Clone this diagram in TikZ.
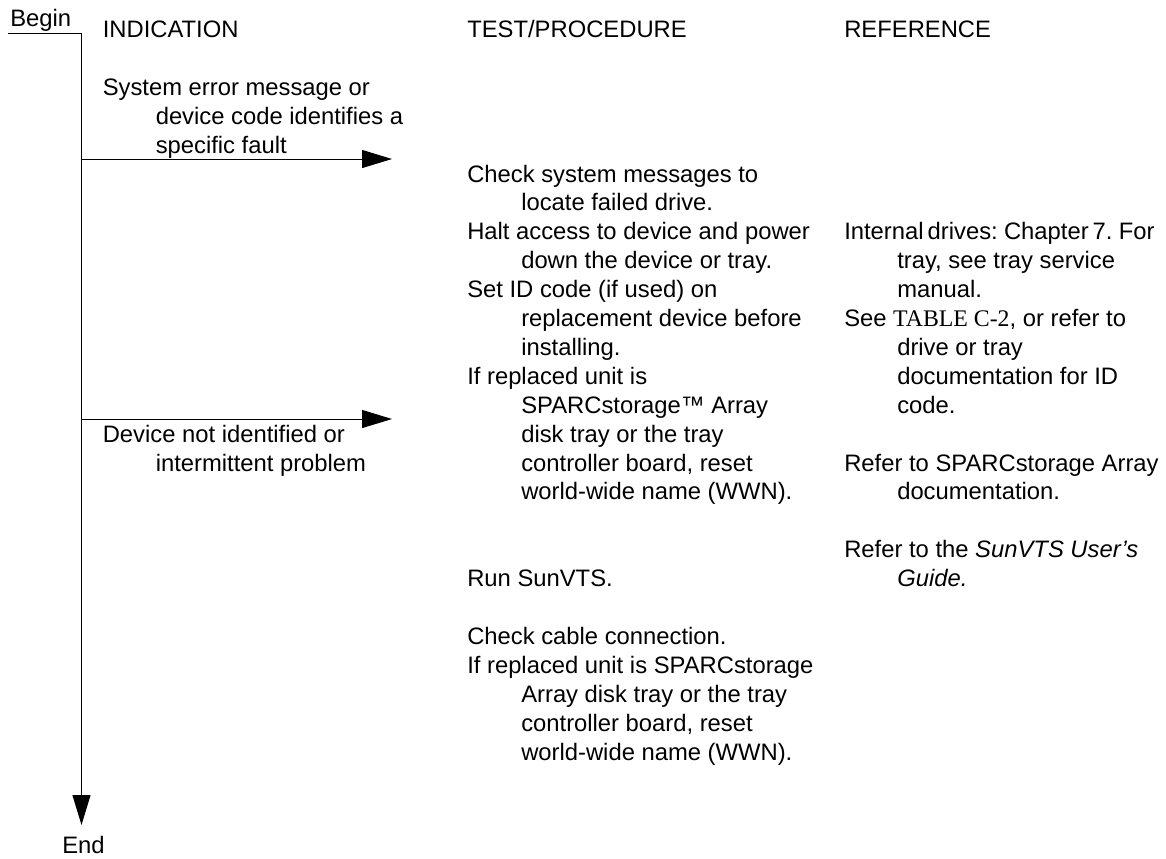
\documentclass[tikz,border=0pt]{standalone}
\usepackage{fontspec}
\setmainfont{Liberation Sans}
\newfontfamily\tabfont{Liberation Serif}
\usetikzlibrary{arrows.meta}
\begin{document}
\begin{tikzpicture}[x=0.75pt,y=-0.75pt,
  txt/.style={anchor=base west, inner sep=0pt, font=\fontsize{17.85pt}{21pt}\selectfont},
  flow/.style={line width=0.75pt, draw=black},
  head/.style={-{Triangle[length=22.5pt,width=13.5pt]}}]
\useasboundingbox (0,0) rectangle (1166,858);
% start / end
\node[txt] (begin) at (10,26) {Begin};
\node[txt] (end) at (62,853) {End};
% headers
\node[txt] (h1) at (102.5,37.5) {INDICATION};
\node[txt] (h2) at (467,37.5) {TEST/PROCEDURE};
\node[txt] (h3) at (844,37.5) {REFERENCE};
% indications
\node[txt] (i1a) at (102.5,95.3) {System error message or};
\node[txt] (i1b) at (155.5,124.2) {device code identifies a};
\node[txt] (i1c) at (155.5,153.1) {specific fault};
\node[txt] (i2a) at (102.5,442.1) {Device not identified or};
\node[txt] (i2b) at (155.5,471.0) {intermittent problem};
% tests
\node[txt] (t1a) at (467,182.0) {Check system messages to};
\node[txt] (t1b) at (521,210.9) {locate failed drive.};
\node[txt] (t2a) at (467,239.8) {Halt access to device and power};
\node[txt] (t2b) at (521,268.7) {down the device or tray.};
\node[txt] (t3a) at (467,297.6) {Set ID code (if used) on};
\node[txt] (t3b) at (521,326.5) {replacement device before};
\node[txt] (t3c) at (521,355.4) {installing.};
\node[txt] (t4a) at (467,384.3) {If replaced unit is};
\node[txt] (t4b) at (521,413.2) {SPARCstorage™ Array};
\node[txt] (t4c) at (521,442.1) {disk tray or the tray};
\node[txt] (t4d) at (521,471.0) {controller board, reset};
\node[txt] (t4e) at (521,499.9) {world-wide name (WWN).};
\node[txt] (t5a) at (467,586.6) {Run SunVTS.};
\node[txt] (t6a) at (467,644.4) {Check cable connection.};
\node[txt] (t7a) at (467,673.3) {If replaced unit is SPARCstorage};
\node[txt] (t7b) at (521,702.2) {Array disk tray or the tray};
\node[txt] (t7c) at (521,731.1) {controller board, reset};
\node[txt] (t7d) at (521,760.0) {world-wide name (WWN).};
% references
\node[txt] (r1a) at (844,239.8) {\spaceskip=0.17em Internal drives: Chapter 7. For};
\node[txt] (r1b) at (897,268.7) {tray, see tray service};
\node[txt] (r1c) at (897,297.6) {manual.};
\node[txt] (r2a) at (844,326.5) {See {\tabfont TABLE C-2}, or refer to};
\node[txt] (r2b) at (897,355.4) {drive or tray};
\node[txt] (r2c) at (897,384.3) {documentation for ID};
\node[txt] (r2d) at (897,413.2) {code.};
\node[txt] (r3a) at (844,471.0) {Refer to SPARCstorage Array};
\node[txt] (r3b) at (897,499.9) {documentation.};
\node[txt] (r4a) at (844,557.7) {Refer to the \textit{SunVTS User's}};
\node[txt] (r4b) at (897,586.6) {\textit{Guide.}};
% flow lines
\coordinate (ul) at (8,33);
\coordinate (top) at (81.5,33);
\coordinate (bot) at (81.5,825);
\coordinate (b1) at (81.5,159);
\coordinate (e1) at (392,159);
\coordinate (b2) at (81.5,419);
\coordinate (e2) at (392,419);
\draw[flow] (ul) -- (top);
\draw[flow,head] (top) -- (bot);
\draw[flow,head] (b1) -- (e1);
\draw[flow,head] (b2) -- (e2);
\end{tikzpicture}
\end{document}
